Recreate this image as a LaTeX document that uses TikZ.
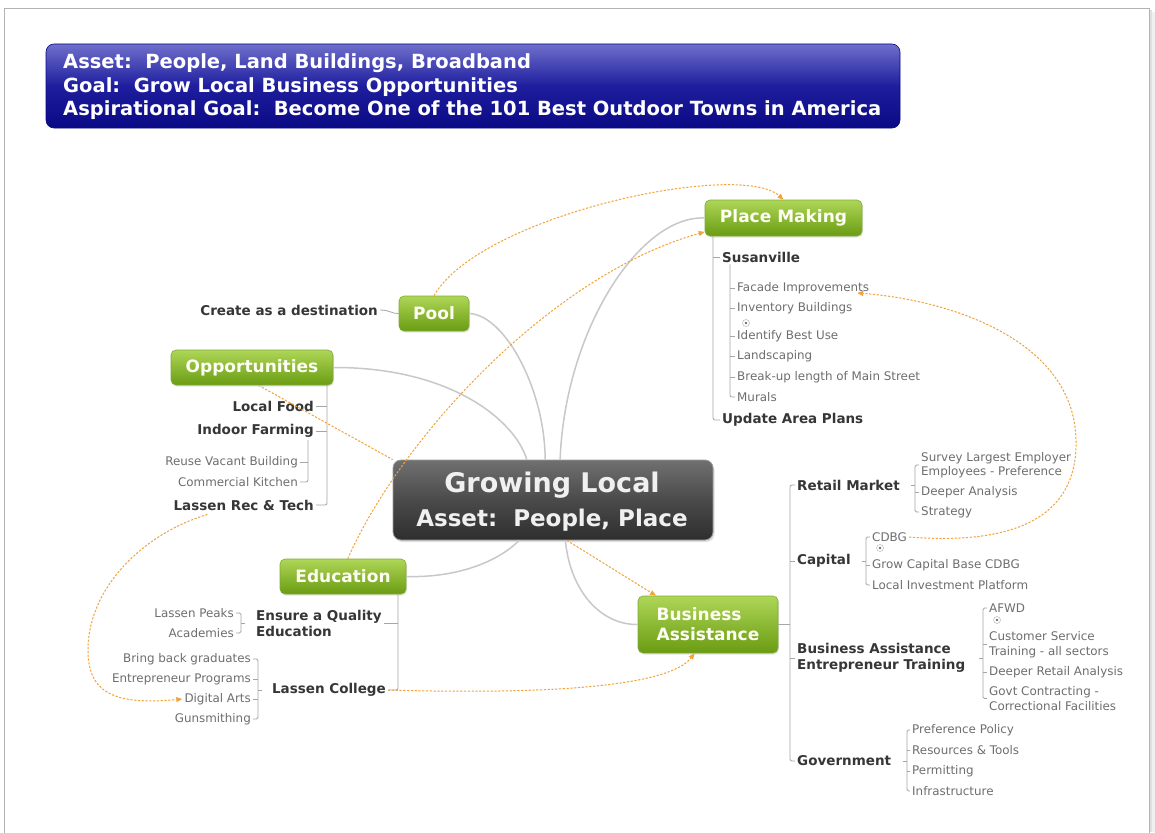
\documentclass[tikz,border=0pt]{standalone}
\usepackage{fontspec}
\setmainfont{DejaVu Sans}
\usetikzlibrary{arrows.meta,calc,shadows}

\definecolor{topicTop}{HTML}{AED657}
\definecolor{topicBot}{HTML}{6A9C12}
\definecolor{hubTop}{HTML}{707070}
\definecolor{hubMid}{HTML}{4A4A4A}
\definecolor{hubBot}{HTML}{2E2E2E}
\definecolor{headTop}{HTML}{6F6FCB}
\definecolor{headMid}{HTML}{1E1E9E}
\definecolor{headBot}{HTML}{0A0A86}
\definecolor{linkgray}{HTML}{C8C8C8}
\definecolor{treegray}{HTML}{A6A6A6}
\definecolor{subtext}{HTML}{363636}
\definecolor{leaftext}{HTML}{6E6E6E}
\definecolor{relorange}{HTML}{F2A33A}

\tikzset{
  headbox/.style={rounded corners=8pt, top color=headTop, bottom color=headBot, middle color=headMid,
    draw=headBot, line width=0.6pt, minimum width=854pt, minimum height=84pt, inner sep=0pt},
  headtxt/.style={text=white, font=\bfseries\fontsize{19.5}{23.5}\selectfont, align=left, inner sep=0pt},
  hubbox/.style={rounded corners=8pt, top color=hubTop, bottom color=hubBot, middle color=hubMid,
    draw=hubTop!70!white, line width=0.8pt, minimum width=320pt, minimum height=80pt, inner sep=0pt,
    drop shadow={opacity=0.25, shadow xshift=1.5pt, shadow yshift=-2pt}},
  hubtxt/.style={text=white!94!black, font=\bfseries, inner sep=0pt},
  topic/.style={rounded corners=5pt, top color=topicTop, bottom color=topicBot,
    draw=topicBot!85!white, line width=0.6pt, text=white!96!yellow,
    font=\bfseries\fontsize{17}{20}\selectfont, align=left, inner sep=0pt,
    drop shadow={opacity=0.2, shadow xshift=1pt, shadow yshift=-1.5pt}},
  subitem/.style={font=\bfseries\fontsize{13.5}{16}\selectfont, text=subtext, inner sep=2pt, align=left},
  leaf/.style={font=\fontsize{11.9}{15}\selectfont, text=leaftext, inner sep=2pt, align=left},
  plusmark/.style={circle, draw=leaftext!60, fill=white, minimum size=7pt, inner sep=0pt},
  tree/.style={draw=treegray, line width=0.8pt},
  link/.style={draw=linkgray, line width=1.5pt},
  relplain/.style={draw=relorange, line width=1pt, dash pattern=on 2.2pt off 1.6pt},
  rel/.style={relplain, -{Triangle[length=6pt,width=5pt]}},
}

\begin{document}
\begin{tikzpicture}[x=1pt,y=-1pt]
\useasboundingbox (0,0) rectangle (1155,832);

% page frame with a soft shadow on the right
\fill[black!12] (1149,10) rectangle (1152,832);
\fill[black!6] (1152,12) rectangle (1155,832);
\draw[black!30, line width=0.8pt, fill=white] (4,8) rectangle (1149,833);

% header banner
\node[headbox] (head) at (473,86) {};
\node[headtxt, anchor=west] (headtext) at (63,87) {Asset:\ \ People, Land Buildings, Broadband\\Goal:\ \ Grow Local Business Opportunities\\Aspirational Goal:\ \ Become One of the 101 Best Outdoor Towns in America};

% central topic and main topics
\node[hubbox] (hub) at (553,500) {};
\node[hubtxt, font=\bfseries\fontsize{27}{30}\selectfont] (hubA) at (552,485) {Growing Local};
\node[hubtxt, font=\bfseries\fontsize{23}{26}\selectfont] (hubB) at (552,520) {Asset:\ \ People, Place};

\node[topic, minimum width=157pt, minimum height=36pt] (pm) at (783.5,218) {Place Making};
\node[topic, minimum width=70pt, minimum height=35pt] (pool) at (434,313.5) {Pool};
\node[topic, minimum width=162pt, minimum height=35pt] (opp) at (252,367.5) {Opportunities};
\node[topic, minimum width=126pt, minimum height=35pt] (edu) at (343,576.5) {Education};
\node[topic, minimum width=140pt, minimum height=57pt] (ba) at (708,624.5) {Business\\Assistance};

% links from the central topic
\draw[link] (pool.east) .. controls (505,315) and (545,390) .. (hub.101);
\draw[link] (opp.east) .. controls (450,367) and (515,420) .. (hub.123);
\draw[link] (pm.west) .. controls (640,215) and (565,330) .. (hub.80);
\draw[link] (edu.east) .. controls (460,578) and (500,560) .. (hub.230);
\draw[link] (ba.west) .. controls (600,625) and (570,590) .. (hub.287);

% ---- Pool
\node[subitem, anchor=east] (cad) at (380,310) {Create as a destination};
\draw[tree] (cad.east) .. controls (390,310) and (392,314) .. (pool.west);

% ---- Opportunities
\coordinate (optr) at (327,0);
\node[subitem, anchor=east] (lf) at (316,406) {Local Food};
\node[subitem, anchor=east] (inf) at (316,431) {Indoor Farming};
\node[leaf, anchor=east] (rvb) at (300,462) {Reuse Vacant Building};
\node[leaf, anchor=east] (ck) at (300,482) {Commercial Kitchen};
\node[subitem, anchor=east] (lrt) at (316,505) {Lassen Rec \& Tech};
\draw[tree, rounded corners=2pt] (opp.south -| optr) -- (lrt.east -| optr) -- (lrt.east);
\draw[tree] (lf.east) -- (lf.east -| optr);
\draw[tree] (inf.east) -- (inf.east -| optr);
\coordinate (iftr) at (308,0);
\draw[tree, rounded corners=2pt] (inf.south -| iftr) -- (ck.east -| iftr) -- (ck.east);
\draw[tree] (rvb.east) -- (rvb.east -| iftr);

% ---- Place Making
\coordinate (pmtr) at (713,0);
\coordinate (sustr) at (730,0);
\node[subitem, anchor=west] (sus) at (720,257) {Susanville};
\node[leaf, anchor=west] (fac) at (735,288) {Facade Improvements};
\node[leaf, anchor=west] (inv) at (735,308) {Inventory Buildings};
\node[plusmark] (pl1) at (746,323) {};
\fill[leaftext] (pl1) circle (1.4pt);
\node[leaf, anchor=west] (ibu) at (735,336) {Identify Best Use};
\node[leaf, anchor=west] (lan) at (735,356) {Landscaping};
\node[leaf, anchor=west] (brk) at (735,377) {Break-up length of Main Street};
\node[leaf, anchor=west] (mur) at (735,397) {Murals};
\node[subitem, anchor=west] (uap) at (720,420) {Update Area Plans};
\draw[tree, rounded corners=2pt] (pm.south -| pmtr) -- (uap.west -| pmtr) -- (uap.west);
\draw[tree] (sus.west -| pmtr) -- (sus.west);
\draw[tree, rounded corners=2pt] (sus.south -| sustr) -- (mur.west -| sustr) -- (mur.west);
\foreach \n in {fac,inv,ibu,lan,brk} \draw[tree] (\n.west -| sustr) -- (\n.west);

% ---- Business Assistance
\coordinate (batr) at (790,0);
\node[subitem, anchor=west] (rm) at (795,485) {Retail Market};
\node[subitem, anchor=west] (cap) at (795,561) {Capital};
\node[subitem, anchor=west] (bae) at (795,658) {Business Assistance\\Entrepreneur Training};
\node[subitem, anchor=west] (gov) at (795,761) {Government};
\draw[tree] (ba.east) -- (ba.east -| batr);
\draw[tree, rounded corners=2pt] (rm.west) -- (rm.west -| batr) -- (gov.west -| batr) -- (gov.west);
\draw[tree] (cap.west -| batr) -- (cap.west);
\draw[tree] (bae.west -| batr) -- (bae.west);

% Retail Market
\coordinate (rmtr) at (915,0);
\node[leaf, anchor=west, font=\fontsize{11.9}{14}\selectfont] (sle) at (919,465) {Survey Largest Employer\\Employees - Preference};
\node[leaf, anchor=west] (dan) at (919,492) {Deeper Analysis};
\node[leaf, anchor=west] (str) at (919,512) {Strategy};
\draw[tree, rounded corners=1.5pt] (sle.west) -- (sle.west -| rmtr) -- (str.west -| rmtr) -- (str.west);
\draw[tree] (dan.west -| rmtr) -- (dan.west);
\draw[tree] (rm.east -| rmtr) -- ++(-4,0);

% Capital
\coordinate (cptr) at (866,0);
\node[leaf, anchor=west] (cdbg) at (870,537) {CDBG};
\node[plusmark] (pl2) at (880,548) {};
\fill[leaftext] (pl2) circle (1.4pt);
\node[leaf, anchor=west] (gcb) at (870,565) {Grow Capital Base CDBG};
\node[leaf, anchor=west] (lip) at (870,585) {Local Investment Platform};
\draw[tree, rounded corners=1.5pt] (cdbg.west) -- (cdbg.west -| cptr) -- (lip.west -| cptr) -- (lip.west);
\draw[tree] (gcb.west -| cptr) -- (gcb.west);
\draw[tree] (cap.east -| cptr) -- ++(-4,0);

% Business Assistance / Entrepreneur Training
\coordinate (betr) at (983,0);
\node[leaf, anchor=west] (afwd) at (987,608) {AFWD};
\node[plusmark] (pl3) at (997,620) {};
\fill[leaftext] (pl3) circle (1.4pt);
\node[leaf, anchor=west] (cst) at (987,644.5) {Customer Service\\Training - all sectors};
\node[leaf, anchor=west] (dra) at (987,672) {Deeper Retail Analysis};
\node[leaf, anchor=west] (gct) at (987,698.5) {Govt Contracting -\\Correctional Facilities};
\draw[tree, rounded corners=1.5pt] (afwd.west) -- (afwd.west -| betr) -- (gct.west -| betr) -- (gct.west);
\draw[tree] (cst.west -| betr) -- (cst.west);
\draw[tree] (dra.west -| betr) -- (dra.west);
\draw[tree] (bae.east -| betr) -- ++(-4,0);

% Government
\coordinate (gvtr) at (907,0);
\node[leaf, anchor=west] (pp) at (910,730) {Preference Policy};
\node[leaf, anchor=west] (rt) at (910,750) {Resources \& Tools};
\node[leaf, anchor=west] (per) at (910,771) {Permitting};
\node[leaf, anchor=west] (inf2) at (910,791) {Infrastructure};
\draw[tree, rounded corners=1.5pt] (pp.west) -- (pp.west -| gvtr) -- (inf2.west -| gvtr) -- (inf2.west);
\draw[tree] (rt.west -| gvtr) -- (rt.west);
\draw[tree] (per.west -| gvtr) -- (per.west);
\draw[tree] (gov.east -| gvtr) -- ++(-4,0);

% ---- Education
\coordinate (edtr) at (398,0);
\node[subitem, anchor=west] (eqe) at (254,623) {Ensure a Quality\\Education};
\node[subitem, anchor=east] (lc) at (388,690) {Lassen College};
\draw[tree, rounded corners=2pt] (edu.south -| edtr) -- (lc.east -| edtr) -- (lc.east);
\draw[tree] (eqe.east) -- (eqe.east -| edtr);

\coordinate (lptr) at (241,0);
\node[leaf, anchor=east] (lp) at (236,613) {Lassen Peaks};
\node[leaf, anchor=east] (aca) at (236,633) {Academies};
\draw[tree, rounded corners=1.5pt] (lp.east) -- (lp.east -| lptr) -- (aca.east -| lptr) -- (aca.east);
\draw[tree] (eqe.west -| lptr) -- ++(4,0);

\coordinate (lctr) at (258,0);
\node[leaf, anchor=east] (bbg) at (253,659) {Bring back graduates};
\node[leaf, anchor=east] (ep) at (253,679) {Entrepreneur Programs};
\node[leaf, anchor=east] (da) at (253,699) {Digital Arts};
\node[leaf, anchor=east] (gun) at (253,719) {Gunsmithing};
\draw[tree, rounded corners=1.5pt] (bbg.east) -- (bbg.east -| lctr) -- (gun.east -| lctr) -- (gun.east);
\draw[tree] (ep.east) -- (ep.east -| lctr);
\draw[tree] (da.east) -- (da.east -| lctr);
\draw[tree] (lc.west -| lctr) -- ++(4,0);

% ---- relationship arrows
\draw[rel] (pool.north) .. controls (480,215) and (740,160) .. (pm.north);
\draw[rel] (edu.75) .. controls (400,440) and (550,275) .. (pm.190);
\draw[relplain] (opp.290) -- (hub.north west);
\draw[rel] (hub.289) -- (ba.151);
\draw[rel] (lc.east) .. controls (560,695) and (670,685) .. (ba.245);
\draw[rel] ($(lrt.south west)+(36,2)$) .. controls (140,535) and (88,590) .. (88,650)
  .. controls (88,690) and (110,706) .. (da.west);
\draw[rel] (cdbg.east) .. controls (1010,545) and (1078,520) .. (1076,440)
  .. controls (1074,340) and (950,300) .. ($(fac.south east)+(-14,-3)$);

\end{tikzpicture}
\end{document}
